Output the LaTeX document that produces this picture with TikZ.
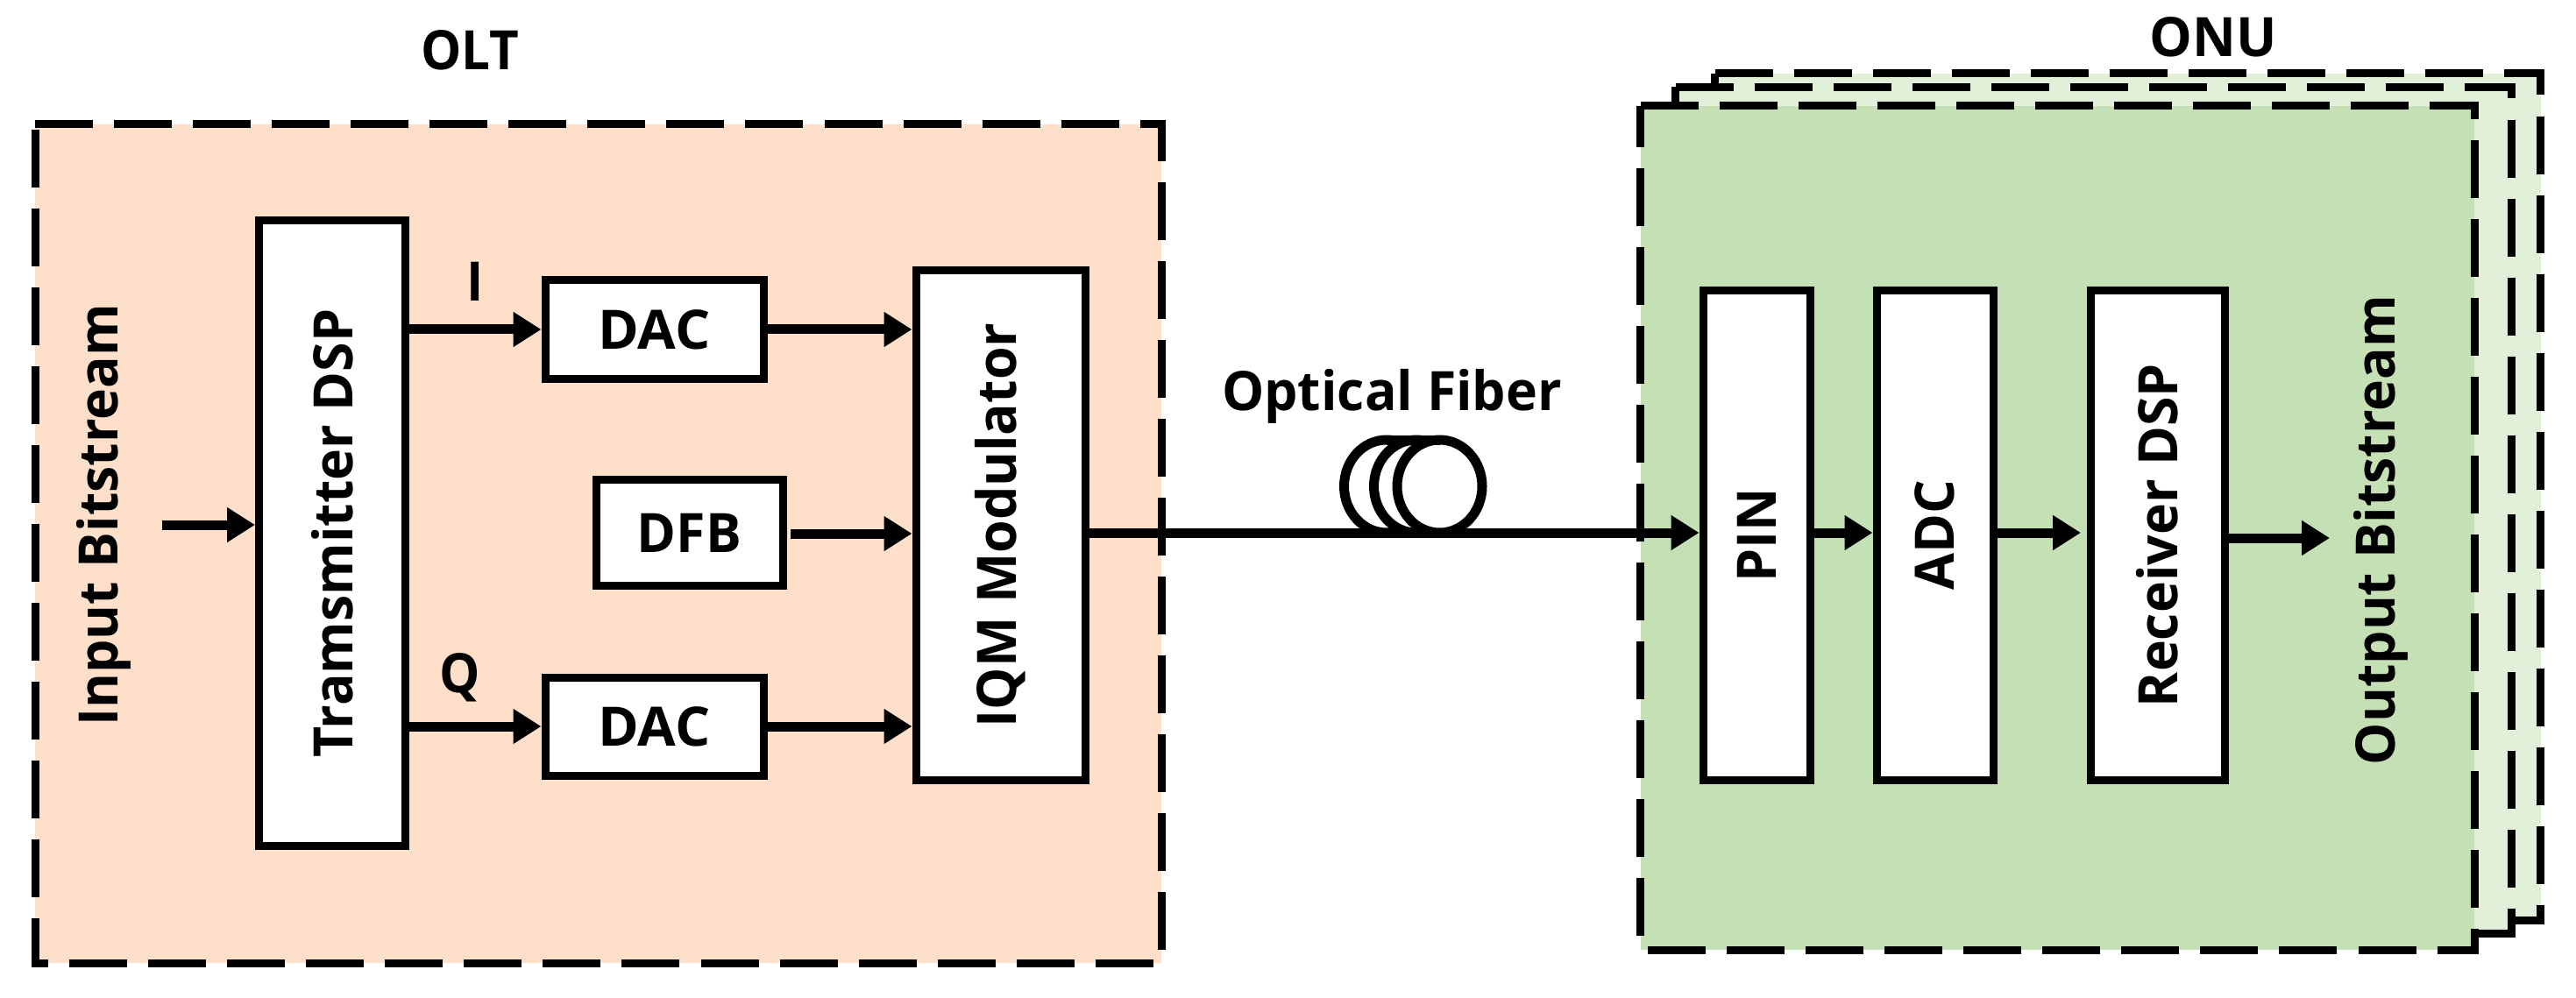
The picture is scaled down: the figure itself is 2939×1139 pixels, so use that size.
\documentclass[tikz,border=0pt]{standalone}
\usepackage{fontspec}
\usepackage{graphicx}
\setmainfont{Open Sans}
\usetikzlibrary{arrows.meta}
\usetikzlibrary{shapes.geometric}
\definecolor{oltfill}{HTML}{FDDFCA}
\definecolor{onufill}{HTML}{C5E0B4}
\definecolor{onuback}{HTML}{E2EFD9}
\newcommand{\hlab}[2]{\scalebox{#1}[1]{#2}}
\newcommand{\vlab}[2]{\rotatebox{90}{\scalebox{#1}[1]{#2}}}
% dashed outline, clockwise from the top left corner
\newcommand{\frameof}[1]{\draw[frame] (#1.north west) -- (#1.north east) -- (#1.south east) -- (#1.south west) -- cycle;}
\tikzset{
	unit/.style={draw=black, fill=white, line width=9pt, inner sep=0pt, font=\txt},
	group/.style={inner sep=0pt, outer sep=0pt},
	frame/.style={draw=black, line width=9pt, dash pattern=on 66pt off 24.05pt},
	txt/.style={inner sep=0pt, font=\txt},
	sig/.style={draw=black, line width=11pt, -{Triangle[length=32pt,width=38pt]}},
	coil/.style={ellipse, draw=black, fill=white, line width=11pt, inner sep=0pt, outer sep=0pt, minimum width=97pt, minimum height=106pt}
}
\newcommand{\txt}{\fontsize{62}{70}\selectfont\bfseries}
\begin{document}
\begin{tikzpicture}[x=1pt,y=-1pt]
	\useasboundingbox (0,0) rectangle (2939,1139);
	% groups
	\node[group, fill=oltfill, minimum width=1285pt, minimum height=957pt] (olt) at (682.5,620.5) {};
	\frameof{olt}
	\node[group, fill=onuback, minimum width=942pt, minimum height=966.7pt] (onu3) at (2427.7,567.35) {};
	\frameof{onu3}
	\node[group, fill=onuback, minimum width=953.3pt, minimum height=966.4pt] (onu2) at (2388.5,582.5) {};
	\frameof{onu2}
	\node[group, fill=onufill, minimum width=951.3pt, minimum height=963.3pt] (onu1) at (2347.35,602.35) {};
	\frameof{onu1}
	\node[txt] (oltlab) at (536,57) {\hlab{.94}{OLT}};
	\node[txt] (onulab) at (2525,42) {\hlab{.99}{ONU}};
	% OLT side
	\node[txt] (input) at (118,588) {\vlab{.98}{Input Bitstream}};
	\node[unit, minimum width=167pt, minimum height=714pt] (dsp) at (379,608.5) {\vlab{.98}{Tramsmitter DSP}};
	\node[unit, minimum width=249pt, minimum height=112pt] (dac1) at (746.5,376) {\hlab{1.02}{DAC}};
	\node[unit, minimum width=213pt, minimum height=121pt] (dfb) at (786.5,608) {\hlab{.98}{DFB}};
	\node[unit, minimum width=249pt, minimum height=112pt] (dac2) at (746.5,829) {\hlab{1.02}{DAC}};
	\node[unit, minimum width=193pt, minimum height=581pt] (iqm) at (1141.5,599.5) {\vlab{.98}{IQM Modulator}};
	\node[txt] (ilab) at (542,321) {\hlab{.94}{I}};
	\node[txt] (qlab) at (525,773) {\hlab{.94}{Q}};
	\coordinate (instart) at (185,599);
	\coordinate (dfbout) at (902,609);
	\draw[sig] (instart) -- (dsp.west |- instart);
	\draw[sig] (dsp.east |- dac1.west) -- (dac1.west);
	\draw[sig] (dsp.east |- dac2.west) -- (dac2.west);
	\draw[sig] (dac1.east) -- (iqm.west |- dac1.east);
	\draw[sig] (dac2.east) -- (iqm.west |- dac2.east);
	\draw[sig] (dfbout) -- (iqm.west |- dfbout);
	% fibre
	\node[coil] (coil1) at (1582,555) {};
	\node[coil] (coil2) at (1616,555) {};
	\node[coil] (coil3) at (1642.5,555) {};
	\draw[black, line width=11pt] (coil1.north) -- (coil3.north);
	\node[txt] (fiblab) at (1588,452) {\hlab{.98}{Optical Fiber}};
	% ONU side
	\node[unit, minimum width=122pt, minimum height=558pt] (pin) at (2004,611) {\vlab{.98}{PIN}};
	\node[unit, minimum width=133pt, minimum height=558pt] (adc) at (2207.5,611) {\vlab{.98}{ADC}};
	\node[unit, minimum width=153pt, minimum height=558pt] (rx) at (2461.5,611) {\vlab{.98}{Receiver DSP}};
	\node[txt] (output) at (2716,605) {\vlab{.98}{Output Bitstream}};
	\coordinate (fibstart) at (iqm.east |- 0,608);
	\coordinate (rxend) at (2658,614);
	\coordinate (adcend) at (2374,608);
	\draw[sig] (fibstart) -- (pin.west |- fibstart);
	\draw[sig] (pin.east |- fibstart) -- (adc.west |- fibstart);
	\draw[sig] (adc.east |- adcend) -- (adcend);
	\draw[sig] (rx.east |- rxend) -- (rxend);
\end{tikzpicture}
\end{document}
